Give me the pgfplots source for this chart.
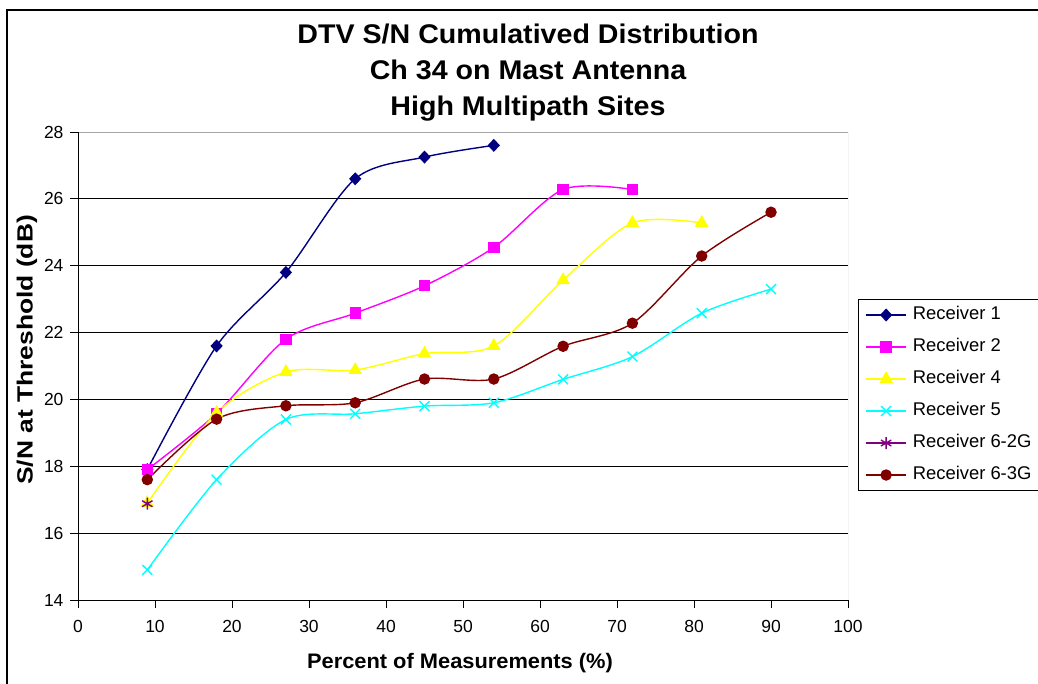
\documentclass[border=0pt]{standalone}
\usepackage{fontspec}
\setmainfont{Liberation Sans}
\usepackage{pgfplots}
\pgfplotsset{compat=1.18}
\definecolor{rOne}{HTML}{000080}
\definecolor{rTwo}{HTML}{FF00FF}
\definecolor{rFour}{HTML}{FFFF00}
\definecolor{rFive}{HTML}{00FFFF}
\definecolor{rSixTwo}{HTML}{800080}
\definecolor{rSixThree}{HTML}{800000}
\begin{document}
\begin{tikzpicture}[x=1pt,y=1pt]
\useasboundingbox (-78,-84) rectangle (960,600);
% chart frame (left and top edges)
\draw[line width=1.5pt] (-71,-84) -- (-71,590) -- (960,590);
\begin{axis}[
  scale only axis, width=770pt, height=468pt,
  at={(0,0)}, anchor=south west,
  xmin=0, xmax=100, ymin=14, ymax=28,
  xtick={0,10,...,100}, ytick={14,16,...,28},
  tick align=outside, major tick length=8pt,
  tick style={black, line width=0.8pt},
  xtick pos=bottom, ytick pos=left,
  /pgf/number format/assume math mode=true,
  ticklabel style={font=\fontsize{17.5}{19}\selectfont},
  xticklabel style={yshift=-9pt},
  yticklabel style={xshift=-3pt},
  ymajorgrids, grid style={black, line width=0.8pt},
  axis line style={draw=none},
  legend style={at={(1.013,0.438)}, anchor=west, draw=black, line width=0.8pt,
    font=\fontsize{18.4}{20}\selectfont, row sep=11pt, inner xsep=7pt, inner ysep=5pt,
    nodes={inner sep=2pt, text height=13pt, text depth=4pt}, cells={anchor=west},
    /tikz/every odd column/.append style={column sep=4pt}},
  legend image code/.code={\draw[mark repeat=2,mark phase=2,#1] plot coordinates {(0pt,0pt) (20pt,0pt) (40pt,0pt)};},
  every axis plot/.append style={line width=1.4pt, smooth, tension=0.5},
]
% plot area border
\draw[gray!70, line width=0.8pt] (rel axis cs:0,1) -- (rel axis cs:1,1) -- (rel axis cs:1,0);
\addplot[rOne, mark=diamond*, mark size=5.5pt, mark options={solid, fill=rOne, xscale=1.25}]
  coordinates {(9,17.9) (18,21.6) (27,23.8) (36,26.6) (45,27.25) (54,27.6)};
\addlegendentry{Receiver 1}
\addplot[rTwo, mark=square*, mark size=5pt, mark options={fill=rTwo}]
  coordinates {(9,17.9) (18,19.58) (27,21.8) (36,22.58) (45,23.4) (54,24.55) (63,26.28) (72,26.28)};
\addlegendentry{Receiver 2}
\addplot[rFour, mark=triangle*, mark size=6.5pt, mark options={fill=rFour}]
  coordinates {(9,16.9) (18,19.6) (27,20.82) (36,20.88) (45,21.37) (54,21.6) (63,23.57) (72,25.28) (81,25.28)};
\addlegendentry{Receiver 4}
\addplot[rFive, mark=x, mark size=7pt]
  coordinates {(9,14.9) (18,17.6) (27,19.4) (36,19.57) (45,19.8) (54,19.9) (63,20.6) (72,21.28) (81,22.58) (90,23.3)};
\addlegendentry{Receiver 5}
\addplot[rSixTwo, mark=asterisk, mark size=6pt]
  coordinates {(9,16.88)};
\addlegendentry{Receiver 6-2G}
\addplot[rSixThree, mark=*, mark size=5pt, mark options={fill=rSixThree}]
  coordinates {(9,17.6) (18,19.41) (27,19.81) (36,19.9) (45,20.61) (54,20.61) (63,21.59) (72,22.28) (81,24.29) (90,25.6)};
\addlegendentry{Receiver 6-3G}
% axis lines
\draw[black, line width=0.8pt] (rel axis cs:0,1) -- (rel axis cs:0,0) -- (rel axis cs:1,0);
\end{axis}
\node[align=center, font=\bfseries\fontsize{27}{36}\selectfont, xscale=1.06] at (450,527)
  {DTV S/N Cumulatived Distribution\\Ch 34 on Mast Antenna\\High Multipath Sites};
\node[font=\bfseries\fontsize{21}{23}\selectfont, xscale=1.04] at (382,-63) {Percent of Measurements (\%)};
\node[font=\bfseries\fontsize{22}{24}\selectfont, rotate=90, xscale=1.2] at (-51,250) {S/N at Threshold (dB)};
\end{tikzpicture}
\end{document}
